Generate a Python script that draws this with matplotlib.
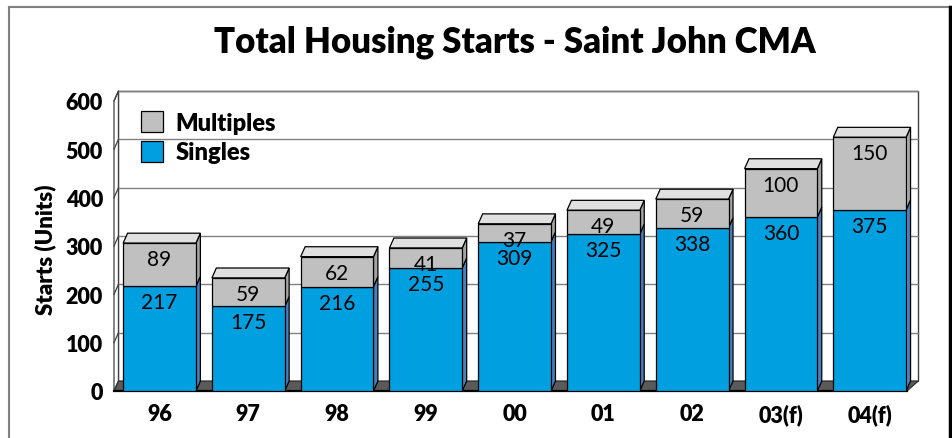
import matplotlib.pyplot as plt
from matplotlib.patches import Polygon, Patch
from matplotlib.lines import Line2D

# Data
years = ['96', '97', '98', '99', '00', '01', '02', '03(f)', '04(f)']
singles = [217, 175, 216, 255, 309, 325, 338, 360, 375]
multiples = [89, 59, 62, 41, 37, 49, 59, 100, 150]
y_ticks = [0, 100, 200, 300, 400, 500, 600]

# Colours
BLUE = '#009FE0'
BLUE_SIDE = '#4A7FBE'
GRAY = '#C0C0C0'
GRAY_SIDE = '#A4A4A4'
TOP = '#E0E0E0'
FLOOR = '#5A5A5A'
GRID = '#808080'

plt.rcParams['font.family'] = ['Lato', 'DejaVu Sans']
HEAVY = 'heavy'

fig = plt.figure(figsize=(9.53, 4.39), dpi=100)
ax = fig.add_axes([114 / 953, 47 / 439, 793 / 953, 290 / 439])

X0, X1 = -0.513, 8.42
ax.set_xlim(X0, X1)
ax.set_ylim(0, 600)

# 3D depth (data units)
DX = 0.05
DY = 20.5
DX_R = 0.125  # wall / floor extend further on the right

# back wall
wall = Polygon([(X0 + DX, DY), (X1 + DX_R, DY), (X1 + DX_R, 600 + DY), (X0 + DX, 600 + DY)],
               closed=True, facecolor='white', edgecolor='#404040', lw=1.0, clip_on=False, zorder=1)
ax.add_patch(wall)
# left side wall
side = Polygon([(X0, 0), (X0 + DX, DY), (X0 + DX, 600 + DY), (X0, 600)],
               closed=True, facecolor='white', edgecolor='#404040', lw=0.9, clip_on=False, zorder=1)
ax.add_patch(side)
for v in y_ticks[1:]:
    ax.add_line(Line2D([X0 + DX, X1 + DX_R], [v + DY, v + DY], color=GRID, lw=1.0,
                       clip_on=False, zorder=1.5))
    ax.add_line(Line2D([X0, X0 + DX], [v, v + DY], color='#404040', lw=0.9,
                       clip_on=False, zorder=1.5))

# floor
floor = Polygon([(X0, 0), (X1, 0), (X1 + DX_R, DY), (X0 + DX, DY)],
                closed=True, facecolor=FLOOR, edgecolor='#303030', lw=0.9, clip_on=False, zorder=2)
ax.add_patch(floor)
ax.add_line(Line2D([X0, X1], [0, 0], color='black', lw=1.6, clip_on=False, zorder=2.5))

# bars
W = 0.82
xs = list(range(len(years)))
totals = [s + m for s, m in zip(singles, multiples)]
ax.bar(xs, singles, width=W, color=BLUE, edgecolor='black', lw=0.9, zorder=3)
ax.bar(xs, multiples, width=W, bottom=singles, color=GRAY, edgecolor='black', lw=0.9, zorder=3)

for x, s, t in zip(xs, singles, totals):
    r = x + W / 2
    l = x - W / 2
    for b, tp, c in [(0, s, BLUE_SIDE), (s, t, GRAY_SIDE)]:
        ax.add_patch(Polygon([(r, b), (r + DX, b + DY), (r + DX, tp + DY), (r, tp)],
                             closed=True, facecolor=c, edgecolor='black', lw=0.9,
                             clip_on=False, zorder=2.8))
    ax.add_patch(Polygon([(l, t), (r, t), (r + DX, t + DY), (l + DX, t + DY)],
                         closed=True, facecolor=TOP, edgecolor='black', lw=0.9,
                         clip_on=False, zorder=2.8))

# value labels (inside the top of each segment, as in the source chart)
for x, s, t, m in zip(xs, singles, totals, multiples):
    ax.annotate(str(s), (x, s), xytext=(0, -11.5), textcoords='offset points',
                ha='center', va='center', fontsize=15, zorder=5)
    ax.annotate(str(m), (x, t), xytext=(0, -11.5), textcoords='offset points',
                ha='center', va='center', fontsize=15, zorder=5)

ax.set_xticks(xs)
ax.set_xticklabels(years, fontsize=15.5, fontweight=HEAVY)
ax.set_yticks(y_ticks)
ax.set_yticklabels([str(v) for v in y_ticks], fontsize=15.5, fontweight=HEAVY)
ax.tick_params(axis='both', length=0)
ax.tick_params(axis='y', pad=8)
ax.tick_params(axis='x', pad=9)
for sp in ax.spines.values():
    sp.set_visible(False)
ax.patch.set_visible(False)

# legend
handles = [Patch(facecolor=GRAY, edgecolor='black', lw=0.9, label='Multiples'),
           Patch(facecolor=BLUE, edgecolor='black', lw=0.9, label='Singles')]
fig.legend(handles=handles, loc='upper left', bbox_to_anchor=(141 / 953, 1 - 112 / 439),
           frameon=False, prop={'size': 17, 'weight': HEAVY}, handlelength=0.95,
           handleheight=1.0, handletextpad=0.5, labelspacing=0.3, borderpad=0,
           borderaxespad=0)

# title and axis label
fig.text(515 / 953, 1 - 42 / 439, 'Total Housing Starts - Saint John CMA',
         ha='center', va='center', fontsize=25, fontweight=HEAVY)
fig.text(45 / 953, 1 - 250 / 439, 'Starts (Units)', ha='center', va='center',
         rotation=90, fontsize=16, fontweight=HEAVY)

# figure frame
fig.add_artist(Line2D([9 / 953, 9 / 953], [0, 1 - 8 / 439], color='#808080', lw=1.5,
                      transform=fig.transFigure))
fig.add_artist(Line2D([9 / 953, 950 / 953], [1 - 8 / 439, 1 - 8 / 439], color='#808080',
                      lw=1.5, transform=fig.transFigure))
fig.add_artist(Line2D([950.5 / 953, 950.5 / 953], [0, 1 - 8 / 439], color='black', lw=2.5,
                      transform=fig.transFigure))

fig.savefig('out.png', dpi=100)
